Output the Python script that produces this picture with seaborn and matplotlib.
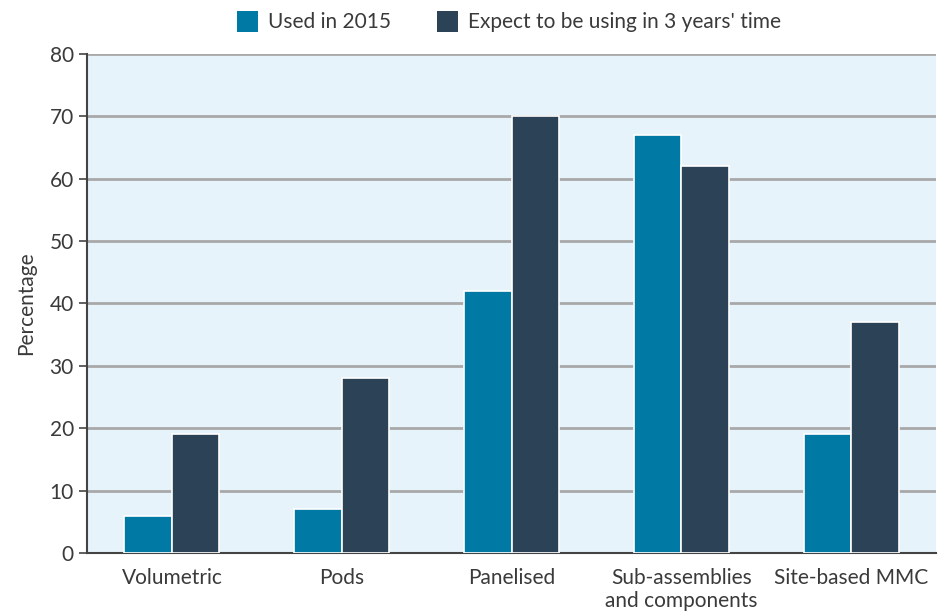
import matplotlib
matplotlib.use("Agg")
import matplotlib.pyplot as plt
import seaborn as sns
import pandas as pd
from matplotlib.patches import Patch

categories = ["Volumetric", "Pods", "Panelised", "Sub-assemblies\nand components", "Site-based MMC"]
series_names = ["Used in 2015", "Expect to be using in 3 years' time"]
used_2015 = [6, 7, 42, 67, 19]
expect_3yrs = [19, 28, 70, 62, 37]
y_ticks = [0, 10, 20, 30, 40, 50, 60, 70, 80]

colors = ["#007AA4", "#2C4257"]
text_color = "#3a3a3a"
fs = 15

df = pd.DataFrame({
    "category": categories * 2,
    "series": [series_names[0]] * len(categories) + [series_names[1]] * len(categories),
    "value": used_2015 + expect_3yrs,
})

sns.set_theme(style="white")
plt.rcParams["font.family"] = ["Lato", "DejaVu Sans"]

fig = plt.figure(figsize=(9.43, 6.13), dpi=100)
ax = fig.add_axes([0.0923, 0.0979, 0.9003, 0.814])
ax.set_facecolor("#E6F3FB")

sns.barplot(data=df, x="category", y="value", hue="series", palette=colors,
            saturation=1, width=0.56, edgecolor="white", linewidth=1.2, ax=ax,
            legend=False, zorder=3)

ax.set_ylim(0, 80)
ax.set_xlim(-0.5, len(categories) - 0.5)
ax.set_yticks(y_ticks)
ax.yaxis.grid(True, color="#A8A8A8", linewidth=2, zorder=0)
ax.set_axisbelow(True)

for side in ["top", "right"]:
    ax.spines[side].set_visible(False)
for side in ["left", "bottom"]:
    ax.spines[side].set_color("#444444")
    ax.spines[side].set_linewidth(1.5)

# category separators on x axis
ax.set_xticks([i - 0.5 for i in range(len(categories) + 1)], minor=True)
ax.tick_params(axis="x", which="minor", length=6, width=1.2, color="#444444", direction="out")
ax.tick_params(axis="x", which="major", length=0, pad=11, labelsize=fs, labelcolor=text_color)
ax.tick_params(axis="y", which="major", length=6, width=1.2, color="#444444",
               direction="out", labelsize=fs, labelcolor=text_color, left=True)
for lbl in ax.get_xticklabels():
    lbl.set_linespacing(1.15)

ax.set_xlabel("")
ax.set_ylabel("Percentage", fontsize=fs, color=text_color, labelpad=10)

handles = [Patch(facecolor=c, edgecolor="none") for c in colors]
fig.legend(handles, series_names, loc="upper center", bbox_to_anchor=(0.54, 1.013),
           ncol=2, frameon=False, fontsize=fs, handlelength=1.0, handleheight=1.2,
           handletextpad=0.5, columnspacing=2.2, labelcolor=text_color)

fig.savefig("out.png", dpi=100)
